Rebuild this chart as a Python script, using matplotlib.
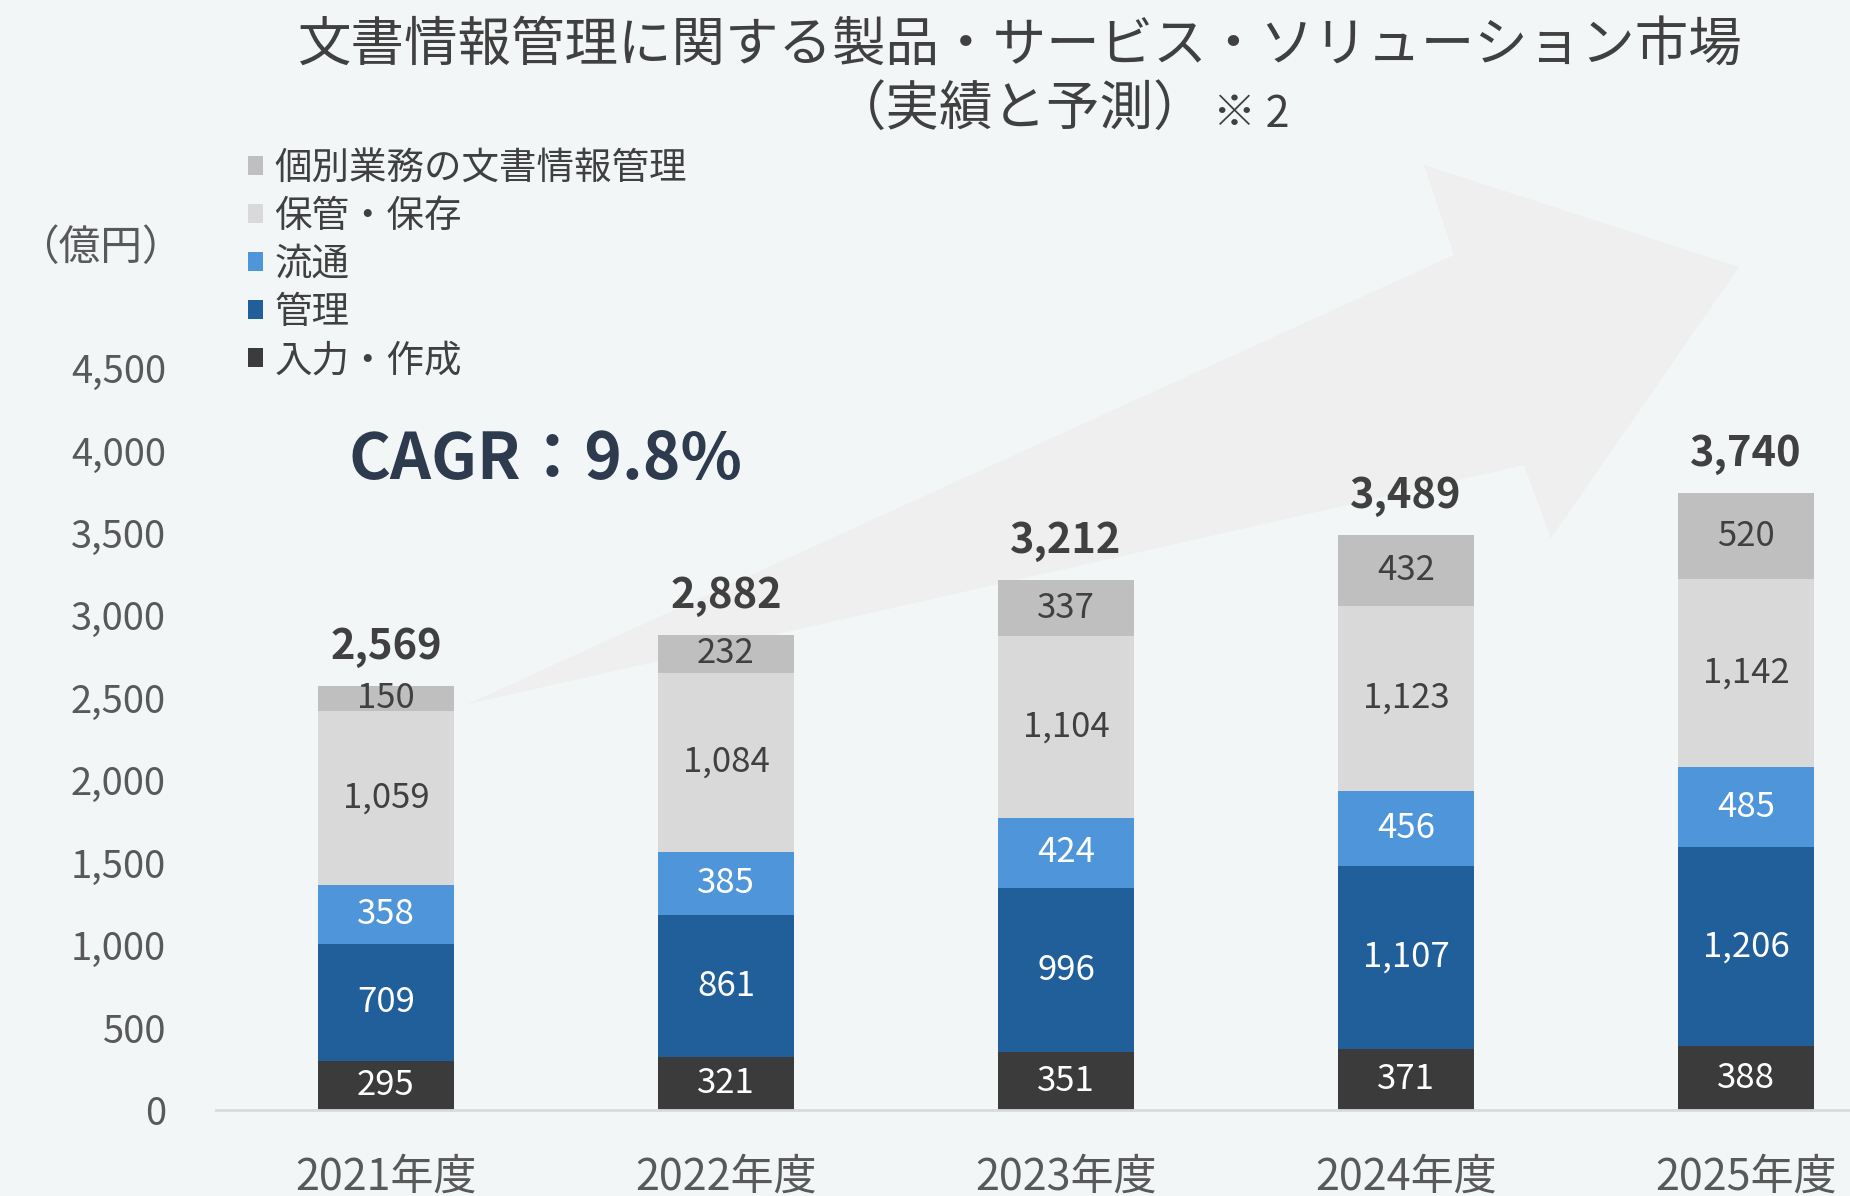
import matplotlib
matplotlib.use("Agg")
import matplotlib.pyplot as plt
from matplotlib.patches import Polygon, Patch
import numpy as np

plt.rcParams['font.family'] = ['Noto Sans CJK JP', 'DejaVu Sans']

# データ（億円）
years = ['2021年度', '2022年度', '2023年度', '2024年度', '2025年度']
series_names = ['入力・作成', '管理', '流通', '保管・保存', '個別業務の文書情報管理']
input_create = [295, 321, 351, 371, 388]
management = [709, 861, 996, 1107, 1206]
distribution = [358, 385, 424, 456, 485]
storage = [1059, 1084, 1104, 1123, 1142]
individual = [150, 232, 337, 432, 520]
totals = [2569, 2882, 3212, 3489, 3740]
yticks = [0, 500, 1000, 1500, 2000, 2500, 3000, 3500, 4000, 4500]

series = [input_create, management, distribution, storage, individual]
colors = ['#3b3b3b', '#215f9a', '#4f95d9', '#d9d9d9', '#bfbfbf']
label_colors = ['white', 'white', 'white', '#404040', '#404040']

bg = '#f2f6f7'
W, H = 1850, 1196
fig = plt.figure(figsize=(W / 100, H / 100), dpi=100, facecolor=bg)

def fx(px):
    return px / W

def fy(py):
    return 1 - py / H

# 背景の矢印
arrow_px = [(468, 704), (1454, 255), (1424, 165), (1739, 267),
            (1551, 538), (1524, 465)]
arrow = Polygon([(fx(x), fy(y)) for x, y in arrow_px], closed=True,
                transform=fig.transFigure, facecolor='#eeefee',
                edgecolor='none', zorder=-1)
fig.patches.append(arrow)

ax = fig.add_axes([fx(216), fy(1110), fx(1850 - 216), (1110 - 368) / H])
ax.patch.set_alpha(0)

x = np.arange(len(years))
bottom = np.zeros(len(years))
for vals, name, c, lc in zip(series, series_names, colors, label_colors):
    bars = ax.bar(x, vals, 0.4, bottom=bottom, color=c, label=name,
                  edgecolor='none', zorder=2)
    ax.bar_label(bars, labels=[f'{v:,}' for v in vals], label_type='center',
                 color=lc, fontsize=25)
    bottom += np.array(vals)

# 合計
for xi, top, t in zip(x, bottom, totals):
    ax.annotate(f'{t:,}', (xi, top), xytext=(0, 28), textcoords='offset points',
                ha='center', va='center', fontsize=30, fontweight='bold',
                color='#404040', annotation_clip=False)

ax.set_xlim(-0.5, 4.306)
ax.set_ylim(0, 4500)
ax.set_yticks(yticks)
ax.set_yticklabels([f'{v:,}' for v in yticks])
ax.set_xticks(x)
ax.set_xticklabels(years)
ax.tick_params(axis='y', length=0, pad=36, labelsize=27.5, labelcolor='#595959')
ax.tick_params(axis='x', length=0, pad=33, labelsize=31, labelcolor='#595959')
for s in ['top', 'right', 'left']:
    ax.spines[s].set_visible(False)
ax.spines['bottom'].set_color('#d9d9d9')
ax.spines['bottom'].set_linewidth(2)

# 凡例（上から個別業務の順）
handles = [Patch(facecolor=c) for c in colors][::-1]
fig.legend(handles, series_names[::-1], loc='upper left',
           bbox_to_anchor=(fx(248), fy(149)), frameon=False, fontsize=27,
           handlelength=0.4, handleheight=0.4, handletextpad=0.3,
           labelspacing=0.24, borderpad=0, borderaxespad=0,
           labelcolor='#404040')

fig.text(fx(100), fy(249), '（億円）', ha='center', va='center',
         fontsize=30, color='#595959')

# タイトル
fig.text(fx(1020), fy(46), '文書情報管理に関する製品・サービス・ソリューション市場',
         ha='center', va='center', fontsize=38.5, color='#404040')
fig.text(fx(1020), fy(109), '（実績と予測）', ha='center', va='center',
         fontsize=38.5, color='#404040')
fig.text(fx(1213), fy(115), '※ 2', ha='left', va='center',
         fontsize=31, color='#404040')

fig.text(fx(348), fy(460), 'CAGR：9.8%', ha='left', va='center',
         fontsize=46, fontweight='bold', color='#2e3a4d')

fig.savefig('out.png', dpi=100, facecolor=bg)
